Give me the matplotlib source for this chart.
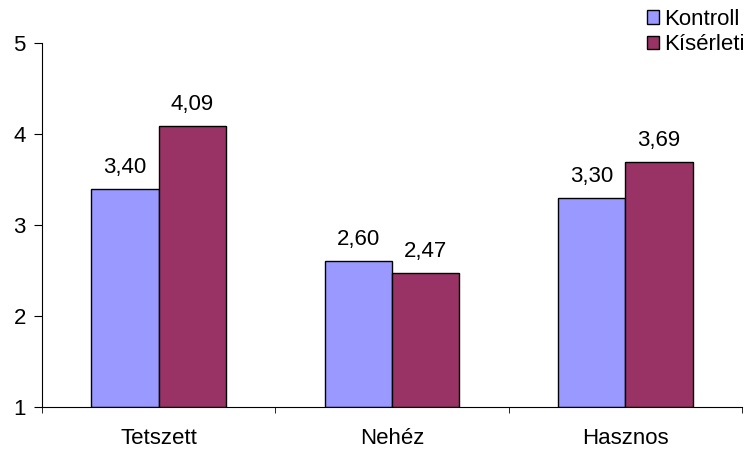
import numpy as np
import matplotlib.pyplot as plt

plt.rcParams['font.family'] = ['Liberation Sans', 'DejaVu Sans']

categories = ['Tetszett', 'Nehéz', 'Hasznos']
kontroll = [3.40, 2.60, 3.30]
kiserleti = [4.09, 2.47, 3.69]
labels = ['Kontroll', 'Kísérleti']

fs = 16

fig = plt.figure(figsize=(7.48, 4.5), dpi=100)
ax = fig.add_axes([0.056, 0.096, 0.936, 0.808])

x = np.arange(len(categories))
w = 0.288
ax.bar(x - w / 2, np.array(kontroll) - 1, w, bottom=1, color='#9999FF',
       edgecolor='black', linewidth=1, label=labels[0])
ax.bar(x + w / 2, np.array(kiserleti) - 1, w, bottom=1, color='#993366',
       edgecolor='black', linewidth=1, label=labels[1])

for xs, vals in ((x - w / 2, kontroll), (x + w / 2, kiserleti)):
    for xi, v in zip(xs, vals):
        ax.text(xi, v + 0.12, f'{v:.2f}'.replace('.', ','), ha='center',
                va='bottom', fontsize=fs)

ax.set_xlim(-0.5, 2.5)
ax.set_ylim(1, 5)
ax.set_yticks([1, 2, 3, 4, 5])
ax.set_xticks(x)
ax.set_xticklabels(categories)
ax.set_xticks([-0.5, 0.5, 1.5, 2.5], minor=True)
ax.tick_params(axis='x', which='major', length=0, pad=15, labelsize=fs)
ax.tick_params(axis='x', which='minor', length=4.5, direction='out')
ax.tick_params(axis='y', length=5.5, direction='out', labelsize=fs, pad=6)
for s in ('top', 'right'):
    ax.spines[s].set_visible(False)

ax.legend(loc='upper left', bbox_to_anchor=(647 / 748, 1 - 9 / 450),
          bbox_transform=fig.transFigure, frameon=False,
          fontsize=fs, handlelength=0.55, handleheight=0.55,
          handletextpad=0.2, labelspacing=0.2, borderpad=0, borderaxespad=0)

fig.savefig('out.png', dpi=100)
